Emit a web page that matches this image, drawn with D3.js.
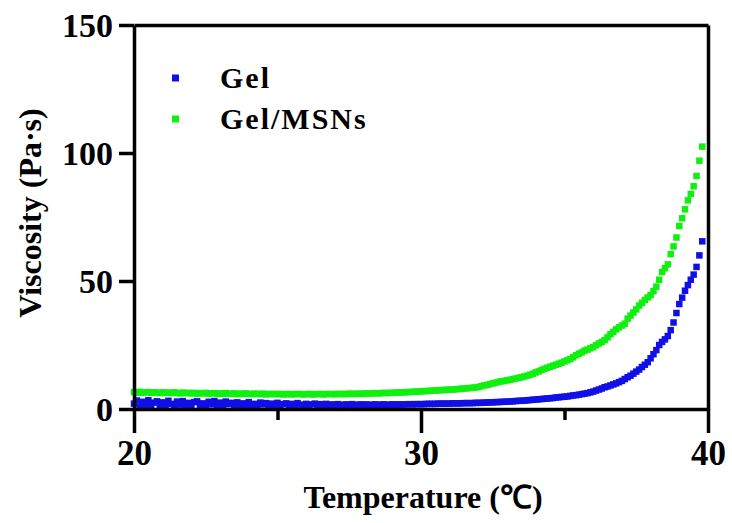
<!DOCTYPE html>
<html>
<head>
<meta charset="utf-8">
<script src="https://cdn.jsdelivr.net/npm/d3@7"></script>
<style>
  html, body { margin: 0; padding: 0; background: #fff; }
  svg { display: block; }
  text { font-family: "Liberation Serif", "Times New Roman", serif; font-weight: bold; fill: #000; }
</style>
</head>
<body>
<svg id="chart" width="732" height="523"></svg>
<script>
// Temperature (°C), sampled every 0.1 °C
const temperature = [
  20.0,20.1,20.2,20.3,20.4,20.5,20.6,20.7,20.8,20.9,
  21.0,21.1,21.2,21.3,21.4,21.5,21.6,21.7,21.8,21.9,
  22.0,22.1,22.2,22.3,22.4,22.5,22.6,22.7,22.8,22.9,
  23.0,23.1,23.2,23.3,23.4,23.5,23.6,23.7,23.8,23.9,
  24.0,24.1,24.2,24.3,24.4,24.5,24.6,24.7,24.8,24.9,
  25.0,25.1,25.2,25.3,25.4,25.5,25.6,25.7,25.8,25.9,
  26.0,26.1,26.2,26.3,26.4,26.5,26.6,26.7,26.8,26.9,
  27.0,27.1,27.2,27.3,27.4,27.5,27.6,27.7,27.8,27.9,
  28.0,28.1,28.2,28.3,28.4,28.5,28.6,28.7,28.8,28.9,
  29.0,29.1,29.2,29.3,29.4,29.5,29.6,29.7,29.8,29.9,
  30.0,30.1,30.2,30.3,30.4,30.5,30.6,30.7,30.8,30.9,
  31.0,31.1,31.2,31.3,31.4,31.5,31.6,31.7,31.8,31.9,
  32.0,32.1,32.2,32.3,32.4,32.5,32.6,32.7,32.8,32.9,
  33.0,33.1,33.2,33.3,33.4,33.5,33.6,33.7,33.8,33.9,
  34.0,34.1,34.2,34.3,34.4,34.5,34.6,34.7,34.8,34.9,
  35.0,35.1,35.2,35.3,35.4,35.5,35.6,35.7,35.8,35.9,
  36.0,36.1,36.2,36.3,36.4,36.5,36.6,36.7,36.8,36.9,
  37.0,37.1,37.2,37.3,37.4,37.5,37.6,37.7,37.8,37.9,
  38.0,38.1,38.2,38.3,38.4,38.5,38.6,38.7,38.8,38.9,
  39.0,39.1,39.2,39.3,39.4,39.5,39.6,39.7,39.8
];

// Viscosity (Pa·s) – Gel
const gel = [
  2.1,3.3,0.8,2.8,1.5,3.4,1.1,2.5,3.0,0.9,
  2.6,1.4,3.2,2.0,0.8,2.9,1.7,3.1,1.2,2.4,
  1.0,2.7,3.0,1.5,2.2,0.9,2.8,1.8,3.1,1.3,
  2.5,1.1,2.9,1.9,2.4,0.9,2.6,1.6,2.2,1.2,
  2.7,1.5,2.0,1.1,2.5,1.8,2.3,1.0,2.1,1.6,
  2.4,1.3,1.9,2.2,1.4,2.0,1.2,2.3,1.7,1.5,
  2.0,1.4,1.8,2.1,1.3,1.9,1.6,2.0,1.4,1.8,
  1.5,1.9,1.7,1.4,1.8,1.6,1.9,1.5,1.7,1.8,
  1.6,1.8,1.5,1.7,1.8,1.6,1.7,1.8,1.6,1.7,
  1.8,1.7,1.8,1.7,1.8,1.8,1.9,1.8,1.9,1.9,
  1.9,1.9,2.0,2.0,2.0,2.0,2.1,2.1,2.1,2.1,
  2.1,2.2,2.2,2.2,2.2,2.3,2.3,2.3,2.3,2.4,
  2.4,2.4,2.5,2.5,2.6,2.6,2.7,2.7,2.8,2.8,
  2.9,2.9,3.0,3.1,3.2,3.2,3.3,3.4,3.5,3.6,
  3.7,3.8,3.9,4.0,4.1,4.2,4.3,4.5,4.6,4.7,
  4.8,4.9,5.1,5.3,5.4,5.6,5.8,6.0,6.2,6.5,
  6.8,7.2,7.6,8.0,8.5,8.8,9.2,9.6,10.0,10.5,
  11.0,11.7,12.4,13.0,13.8,14.6,15.4,16.4,17.3,18.3,
  19.8,21.4,23.0,25.0,26.2,27.2,28.5,30.8,33.8,37.5,
  41.0,43.5,46.2,48.4,50.5,52.5,55.5,60.0,65.5
];

// Viscosity (Pa·s) – Gel/MSNs
const gelMSNs = [
  6.6,6.4,6.7,6.3,6.5,6.6,6.3,6.5,6.4,6.2,
  6.5,6.3,6.4,6.2,6.5,6.3,6.1,6.4,6.2,6.3,
  6.1,6.3,6.0,6.2,6.1,6.3,6.0,6.1,6.2,5.9,
  6.1,6.0,6.2,5.9,6.0,6.1,5.8,6.0,5.9,6.1,
  5.9,5.8,6.0,5.9,5.8,6.0,5.7,5.9,5.8,5.9,
  5.8,5.9,5.7,5.8,5.9,5.7,5.8,5.9,5.8,5.7,
  5.8,5.9,5.7,5.8,5.8,5.9,5.7,5.8,5.9,5.8,
  5.8,5.9,5.8,5.9,5.8,6.0,5.9,5.9,6.0,5.9,
  6.0,6.1,6.0,6.1,6.2,6.1,6.2,6.3,6.2,6.3,
  6.3,6.4,6.4,6.5,6.5,6.6,6.6,6.7,6.8,6.8,
  6.9,7.0,7.0,7.1,7.2,7.2,7.3,7.4,7.4,7.5,
  7.6,7.6,7.7,7.8,7.9,8.0,8.1,8.2,8.3,8.4,
  8.6,8.9,9.2,9.4,9.7,10.0,10.3,10.6,10.8,11.0,
  11.2,11.4,11.7,11.9,12.2,12.4,12.7,13.0,13.4,13.8,
  14.3,14.7,15.2,15.7,16.1,16.5,16.9,17.3,17.7,18.1,
  18.6,19.0,19.5,20.2,21.0,21.6,22.1,22.8,23.2,23.7,
  24.2,24.9,25.6,26.2,26.9,28.0,29.2,30.1,31.1,31.9,
  32.6,33.3,35.3,36.5,37.7,38.9,40.4,41.5,42.6,43.6,
  44.5,46.0,47.8,50.5,53.5,55.0,56.5,60.5,63.5,67.0,
  71.5,74.5,78.0,81.5,84.0,87.0,91.0,97.0,102.5
];

const seriesNames = ["Gel", "Gel/MSNs"];
const seriesColors = ["#1010e6", "#10f010"];
const xMajorTicks = [20, 30, 40];
const xMinorTicks = [25, 35];
const yTicks = [0, 50, 100, 150];

const svg = d3.select("#chart");
const x = d3.scaleLinear().domain([20, 40]).range([134, 708]);
const y = d3.scaleLinear().domain([0, 150]).range([409, 25]);

const series = [
  { name: seriesNames[1], color: seriesColors[1], values: gelMSNs },
  { name: seriesNames[0], color: seriesColors[0], values: gel }
];
const ms = 6.5;

series.forEach(s => {
  svg.append("g").selectAll("rect")
    .data(temperature.map((t, i) => [t, s.values[i]]))
    .join("rect")
    .attr("x", d => x(d[0]) - ms / 2)
    .attr("y", d => y(d[1]) - ms / 2)
    .attr("width", ms)
    .attr("height", ms)
    .attr("fill", s.color);
});

const lw = 3.5;
// Frame (top & right)
svg.append("g").attr("transform", `translate(0,${y(150)})`)
  .call(d3.axisTop(x).tickValues([]).tickSizeOuter(0))
  .call(g => g.select(".domain").attr("stroke-width", lw).attr("stroke", "#000"));
svg.append("g").attr("transform", `translate(${x(40)},0)`)
  .call(d3.axisRight(y).tickValues([]).tickSizeOuter(0))
  .call(g => g.select(".domain").attr("stroke-width", lw).attr("stroke", "#000"));

// Y axis
svg.append("g").attr("transform", `translate(${x(20)},0)`)
  .call(d3.axisLeft(y).tickValues(yTicks).tickSize(15).tickSizeOuter(0))
  .call(g => g.select(".domain").attr("stroke-width", lw))
  .call(g => g.selectAll(".tick line").attr("stroke-width", lw))
  .call(g => g.selectAll(".tick text")
    .style("font-size", "34px").style("font-family", "'Liberation Serif', serif")
    .style("font-weight", "bold").attr("dy", "0.34em").attr("x", -21));

// X axis minor ticks
svg.append("g").attr("transform", `translate(0,${y(0)})`)
  .call(d3.axisBottom(x).tickValues(xMinorTicks).tickSize(11).tickFormat(""))
  .call(g => g.select(".domain").remove())
  .call(g => g.selectAll(".tick line").attr("stroke-width", lw));

// X axis major
svg.append("g").attr("transform", `translate(0,${y(0)})`)
  .call(d3.axisBottom(x).tickValues(xMajorTicks).tickSize(24).tickSizeOuter(0).tickFormat(d3.format("d")))
  .call(g => g.select(".domain").attr("stroke-width", lw))
  .call(g => g.selectAll(".tick text")
    .style("font-size", "35px").style("font-family", "'Liberation Serif', serif")
    .style("font-weight", "bold").attr("y", 56).attr("dy", null))
  .call(g => g.selectAll(".tick line").attr("stroke-width", lw));

// Axis titles
svg.append("text")
  .attr("transform", "translate(41,213) rotate(-90)")
  .attr("text-anchor", "middle")
  .style("font-size", "32px")
  .text("Viscosity (Pa·s)");

svg.append("text")
  .attr("x", 423).attr("y", 508)
  .attr("text-anchor", "middle")
  .style("font-size", "32px")
  .text("Temperature (℃)");

// Legend
const legend = [
  { name: seriesNames[0], color: seriesColors[0], yy: 78 },
  { name: seriesNames[1], color: seriesColors[1], yy: 119 }
];
legend.forEach(l => {
  svg.append("rect").attr("x", 172).attr("y", l.yy - 3.5).attr("width", 7).attr("height", 7).attr("fill", l.color);
  svg.append("text").attr("x", 220).attr("y", l.yy + 10)
    .style("font-size", "30px").style("letter-spacing", "2px")
    .text(l.name);
});
</script>
</body>
</html>
